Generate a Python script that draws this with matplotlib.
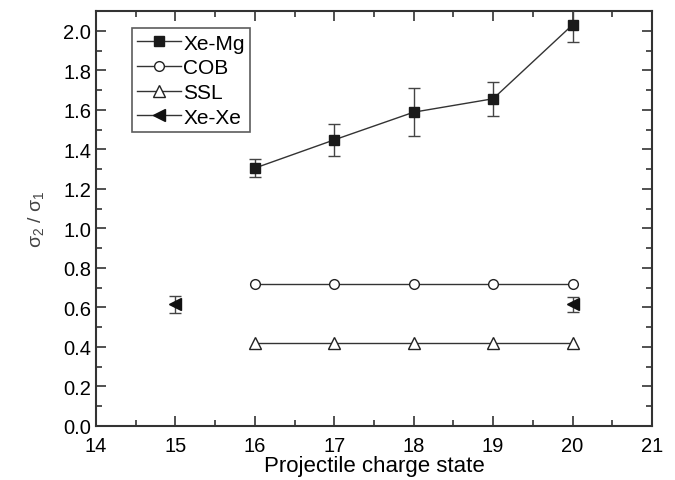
import matplotlib
matplotlib.use("Agg")
import matplotlib.pyplot as plt
from matplotlib.ticker import MultipleLocator
from matplotlib.lines import Line2D

plt.rcParams['font.family'] = ['Liberation Sans', 'DejaVu Sans']
plt.rcParams['mathtext.fontset'] = 'custom'
plt.rcParams['mathtext.rm'] = 'Liberation Sans'
plt.rcParams['mathtext.it'] = 'Liberation Sans'

charge = [16, 17, 18, 19, 20]
xemg = [1.305, 1.448, 1.588, 1.656, 2.03]
xemg_err = [0.045, 0.08, 0.12, 0.087, 0.086]
cob = [0.72, 0.72, 0.72, 0.72, 0.72]
ssl = [0.42, 0.42, 0.42, 0.42, 0.42]
xexe_charge = [15, 20]
xexe = [0.615, 0.615]
xexe_err = [0.045, 0.04]

fig = plt.figure(figsize=(6.75, 4.81), dpi=100)
ax = fig.add_axes([96/675, 1-427/481, (652-96)/675, (427-12)/481])

lc = '#333333'
ax.errorbar(charge, xemg, yerr=xemg_err, color=lc, lw=1, marker='s', ms=7,
            mfc='#1a1a1a', mec='#1a1a1a', ecolor='#444444', elinewidth=1,
            capsize=4, capthick=1, zorder=3)
ax.plot(charge, cob, color=lc, lw=1, marker='o', ms=7, mfc='white', mec='#222222',
        mew=1, zorder=3)
ax.plot(charge, ssl, color=lc, lw=1, marker='^', ms=8, mfc='white', mec='#222222',
        mew=1, zorder=3)
ax.errorbar(xexe_charge, xexe, yerr=xexe_err, color=lc, lw=1, ls='none', marker='<', ms=8,
            mfc='#111111', mec='#111111', ecolor='#444444', elinewidth=1,
            capsize=4, capthick=1, zorder=3)

ax.set_xlim(14, 21)
ax.set_ylim(0, 2.1)
ax.set_xticks([14, 15, 16, 17, 18, 19, 20, 21])
ax.set_xticklabels(['14', '15', '16', '17', '18', '19', '20', '21'])
ax.xaxis.set_minor_locator(MultipleLocator(0.5))
yt = [0.0, 0.2, 0.4, 0.6, 0.8, 1.0, 1.2, 1.4, 1.6, 1.8, 2.0]
ax.set_yticks(yt)
ax.set_yticklabels([f'{v:.1f}' for v in yt])
ax.yaxis.set_minor_locator(MultipleLocator(0.1))
ax.tick_params(which='both', direction='in', top=True, right=True, width=1.2, color='#333333')
ax.tick_params(which='major', length=7, labelsize=14.5)
ax.tick_params(axis='x', which='major', pad=7)
ax.tick_params(which='minor', length=4)
for s in ax.spines.values():
    s.set_linewidth(1.5)
    s.set_color('#333333')

ax.set_xlabel('Projectile charge state', fontsize=16, labelpad=0)
ax.set_ylabel(r'$\sigma_{2}$ / $\sigma_{1}$', fontsize=14, color='#444444', labelpad=12)

handles = [
    Line2D([], [], color=lc, lw=1, marker='s', ms=7, mfc='#1a1a1a', mec='#1a1a1a'),
    Line2D([], [], color=lc, lw=1, marker='o', ms=7, mfc='white', mec='#222222'),
    Line2D([], [], color=lc, lw=1, marker='^', ms=8, mfc='white', mec='#222222'),
    Line2D([], [], color=lc, lw=1, marker='<', ms=8, mfc='#111111', mec='#111111'),
]
labels = ['Xe-Mg', 'COB', 'SSL', 'Xe-Xe']
leg = ax.legend(handles, labels, loc='upper left', bbox_to_anchor=(0.065, 0.958), fontsize=15,
                frameon=True, fancybox=False, edgecolor='#333333', handlelength=2.1,
                handletextpad=0.1, borderpad=0.25, labelspacing=0.27, borderaxespad=0)
leg.get_frame().set_linewidth(1.2)

fig.savefig('out.png', dpi=100)
